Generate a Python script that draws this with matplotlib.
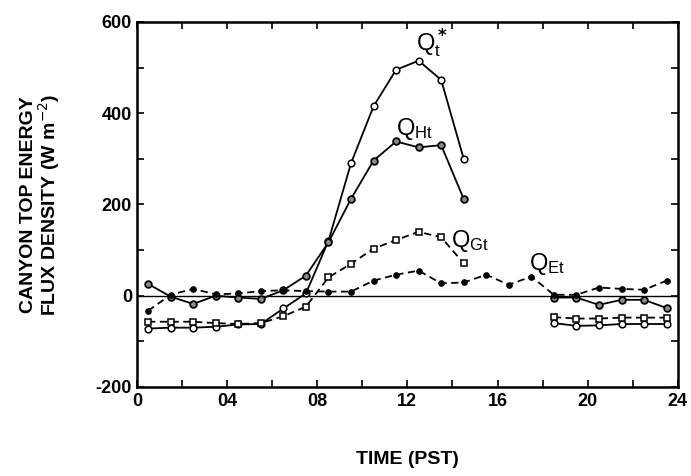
import numpy as np
import matplotlib
matplotlib.use("Agg")
import matplotlib.pyplot as plt

nan = np.nan
hours = np.arange(0.5, 24, 1.0)

# canyon top energy fluxes (W m-2)
q_star = [-72, -70, -70, -68, -63, -62, -28, 5, 120, 290, 415, 495, 515, 473, 300,
          nan, nan, nan, -60, -66, -65, -62, -62, -62]
q_h = [26, -2, -18, 0, -4, -7, 12, 44, 117, 212, 296, 338, 325, 330, 212,
       nan, nan, nan, -4, -4, -20, -9, -9, -27]
q_g = [-57, -57, -57, -60, -62, -60, -45, -24, 40, 70, 103, 122, 140, 128, 71,
       nan, nan, nan, -47, -50, -50, -48, -48, -48]
q_e = [-33, 2, 15, 3, 5, 10, 12, 10, 9, 9, 33, 46, 55, 27, 29,
       46, 24, 42, 2, 2, 18, 15, 13, 33]

plt.rcParams['font.family'] = ['Liberation Sans', 'DejaVu Sans']
plt.rcParams['axes.unicode_minus'] = False

fig = plt.figure(figsize=(6.91, 4.76), dpi=100)
ax = fig.add_axes([0.198, 0.187, 0.783, 0.767])

ax.axhline(0, color='black', lw=1.0, zorder=1)

ms = 4.8
ax.plot(hours, q_star, '-o', color='black', lw=1.3, ms=ms, mfc='white', mew=1.1, zorder=3)
ax.plot(hours, q_h, '-o', color='black', lw=1.3, ms=ms, mfc='0.55', mew=1.3, zorder=3)
ax.plot(hours, q_g, 's', ls=(0, (4, 2.5)), color='black', lw=1.3, ms=ms, mfc='white', mew=1.1, zorder=3)
ax.plot(hours, q_e, 'o', ls=(0, (4, 2.5)), color='black', lw=1.3, ms=3.8, mfc='black', zorder=3)

lab = dict(fontsize=17, color='black')
ax.text(12.4, 555, r'$\mathregular{Q_t^{\bf *}}$', va='center', **lab)
ax.text(11.5, 365, r'$\mathregular{Q_{Ht}}$', va='center', **lab)
ax.text(13.95, 120, r'$\mathregular{Q_{Gt}}$', va='center', **lab)
ax.text(17.4, 70, r'$\mathregular{Q_{Et}}$', va='center', **lab)

ax.set_xlim(0, 24)
ax.set_ylim(-200, 600)
ax.set_xticks(np.arange(0, 25, 4))
ax.set_xticklabels(['0', '04', '08', '12', '16', '20', '24'])
ax.set_xticks(np.arange(0, 25, 2), minor=True)
ax.set_yticks([-200, 0, 200, 400, 600])
ax.set_yticks(np.arange(-200, 601, 100), minor=True)
ax.tick_params(which='both', direction='in', top=True, right=True, length=5, width=1.2,
               labelsize=13)
ax.tick_params(axis='x', pad=4)
for lbl in ax.get_xticklabels() + ax.get_yticklabels():
    lbl.set_fontweight('bold')
for s in ax.spines.values():
    s.set_linewidth(1.8)

ax.set_xlabel('TIME (PST)', fontsize=14, fontweight='bold', labelpad=30)
ax.set_ylabel('CANYON TOP ENERGY\nFLUX DENSITY (W m$^{-2}$)', fontsize=14,
              fontweight='bold', labelpad=24, linespacing=0.95)

fig.savefig('out.png', dpi=100)
